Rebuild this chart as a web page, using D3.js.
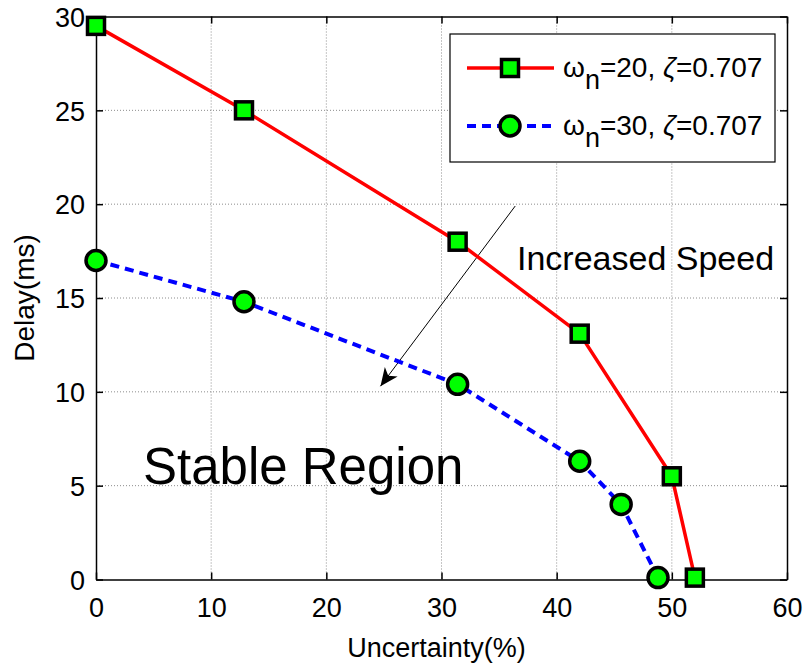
<!DOCTYPE html>
<html><head><meta charset="utf-8">
<script src="https://cdn.jsdelivr.net/npm/d3@7"></script>
<style>
body{margin:0;background:#fff;}
svg text{font-family:"Liberation Sans",Arial,sans-serif;fill:#000;}
</style></head>
<body><svg id="c" width="806" height="663"></svg>
<script>
const xTicks=[0,10,20,30,40,50,60];
const yTicks=[0,5,10,15,20,25,30];
const s1x=[0,12.85,31.4,42.0,50.0,52.0];
const s1y=[29.5,25.0,18.0,13.1,5.5,0.1];
const s2x=[0,12.85,31.4,42.0,45.6,48.8];
const s2y=[17.0,14.8,10.4,6.3,4.0,0.1];
const legendLabels=[["20","0.707"],["30","0.707"]];
const arrowFrom=[36.4,19.9], arrowTo=[24.7,10.3];

const svg=d3.select("#c");
const L=96,R=787,T=16.5,B=579.5;
const x=d3.scaleLinear().domain([0,60]).range([L,R]);
const y=d3.scaleLinear().domain([0,30]).range([B,T]);

// grid
const g=svg.append("g");
g.selectAll(".gx").data(xTicks.slice(1,-1)).enter().append("line")
 .attr("x1",d=>x(d)).attr("x2",d=>x(d)).attr("y1",T).attr("y2",B)
 .attr("stroke","#8c8c8c").attr("stroke-width",1).attr("stroke-dasharray","1,2");
g.selectAll(".gy").data(yTicks.slice(1,-1)).enter().append("line")
 .attr("y1",d=>y(d)).attr("y2",d=>y(d)).attr("x1",L).attr("x2",R)
 .attr("stroke","#8c8c8c").attr("stroke-width",1).attr("stroke-dasharray","1,2");

// axes
const ax=svg.append("g").attr("transform",`translate(0,${B})`)
 .call(d3.axisBottom(x).tickValues(xTicks).tickSizeInner(-7).tickSizeOuter(0).tickPadding(18));
const ay=svg.append("g").attr("transform",`translate(${L},0)`)
 .call(d3.axisLeft(y).tickValues(yTicks).tickSizeInner(-7).tickSizeOuter(0).tickPadding(11));
const axT=svg.append("g").attr("transform",`translate(0,${T})`)
 .call(d3.axisTop(x).tickValues(xTicks).tickSizeInner(-7).tickSizeOuter(0).tickFormat(""));
const ayR=svg.append("g").attr("transform",`translate(${R},0)`)
 .call(d3.axisRight(y).tickValues(yTicks).tickSizeInner(-7).tickSizeOuter(0).tickFormat(""));
[ax,ay,axT,ayR].forEach(a=>{
  a.select(".domain").attr("stroke","#000").attr("stroke-width",1.5);
  a.selectAll(".tick line").attr("stroke","#000").attr("stroke-width",1.5);
  a.selectAll("text").style("font-size","27px").style("font-family","Liberation Sans, Arial, sans-serif").attr("fill","#000");
});
ay.selectAll("text").attr("dy","0.36em");
ax.selectAll("text").attr("dy","0.71em");

// axis labels
svg.append("text").attr("x",(L+R)/2-5).attr("y",657).attr("text-anchor","middle")
 .style("font-size","27px").text("Uncertainty(%)");
svg.append("text").attr("transform",`translate(34,${(T+B)/2}) rotate(-90)`).attr("text-anchor","middle")
 .style("font-size","28px").text("Delay(ms)");

// annotations
svg.append("text").attr("x",517).attr("y",270).style("font-size","34px").text("Increased Speed");
svg.append("text").attr("x",143).attr("y",484).style("font-size","51px").text("Stable Region");

// arrow
svg.append("defs").append("marker").attr("id","ah").attr("viewBox","0 0 20 20")
 .attr("refX",18).attr("refY",10).attr("markerWidth",20).attr("markerHeight",20)
 .attr("markerUnits","userSpaceOnUse").attr("orient","auto")
 .append("path").attr("d","M0,2 L18,10 L0,18 L5,10 Z").attr("fill","#000");
svg.append("line").attr("x1",x(arrowFrom[0])).attr("y1",y(arrowFrom[1]))
 .attr("x2",x(arrowTo[0])).attr("y2",y(arrowTo[1]))
 .attr("stroke","#000").attr("stroke-width",1).attr("marker-end","url(#ah)");

// series
const line=d3.line().x(d=>x(d[0])).y(d=>y(d[1]));
const d1=s1x.map((v,i)=>[v,s1y[i]]), d2=s2x.map((v,i)=>[v,s2y[i]]);
svg.append("path").attr("d",line(d1)).attr("fill","none").attr("stroke","#ff0000").attr("stroke-width",3.5);
svg.append("path").attr("d",line(d2)).attr("fill","none").attr("stroke","#0000ff").attr("stroke-width",4).attr("stroke-dasharray","9,6");
svg.selectAll(".sq").data(d1).enter().append("rect")
 .attr("x",d=>x(d[0])-8.5).attr("y",d=>y(d[1])-8.5).attr("width",17).attr("height",17)
 .attr("fill","#00ff00").attr("stroke","#000").attr("stroke-width",3.5);
svg.selectAll(".ci").data(d2).enter().append("circle")
 .attr("cx",d=>x(d[0])).attr("cy",d=>y(d[1])).attr("r",10)
 .attr("fill","#00ff00").attr("stroke","#000").attr("stroke-width",3.5);

// legend
const lg=svg.append("g");
lg.append("rect").attr("x",450).attr("y",34).attr("width",325).attr("height",128)
 .attr("fill","#fff").attr("stroke","#000").attr("stroke-width",1.2);
const rows=[68,126];
lg.append("line").attr("x1",467).attr("x2",554).attr("y1",rows[0]).attr("y2",rows[0]).attr("stroke","#ff0000").attr("stroke-width",3.5);
lg.append("rect").attr("x",510-8.5).attr("y",rows[0]-8.5).attr("width",17).attr("height",17)
 .attr("fill","#00ff00").attr("stroke","#000").attr("stroke-width",3.5);
lg.append("line").attr("x1",467).attr("x2",554).attr("y1",rows[1]).attr("y2",rows[1]).attr("stroke","#0000ff").attr("stroke-width",4).attr("stroke-dasharray","9,6");
lg.append("circle").attr("cx",510).attr("cy",rows[1]).attr("r",10)
 .attr("fill","#00ff00").attr("stroke","#000").attr("stroke-width",3.5);
legendLabels.forEach((lab,i)=>{
  const t=lg.append("text").attr("x",563).attr("y",rows[i]+9).style("font-size","28px");
  t.append("tspan").text("\u03c9");
  t.append("tspan").attr("dy",12).style("font-size","27px").text("n");
  t.append("tspan").attr("dy",-12).text("="+lab[0]+", ");
  t.append("tspan").style("font-style","italic").text("\u03b6");
  t.append("tspan").text("=0.707".replace("0.707",lab[1]));
});
</script></body></html>
